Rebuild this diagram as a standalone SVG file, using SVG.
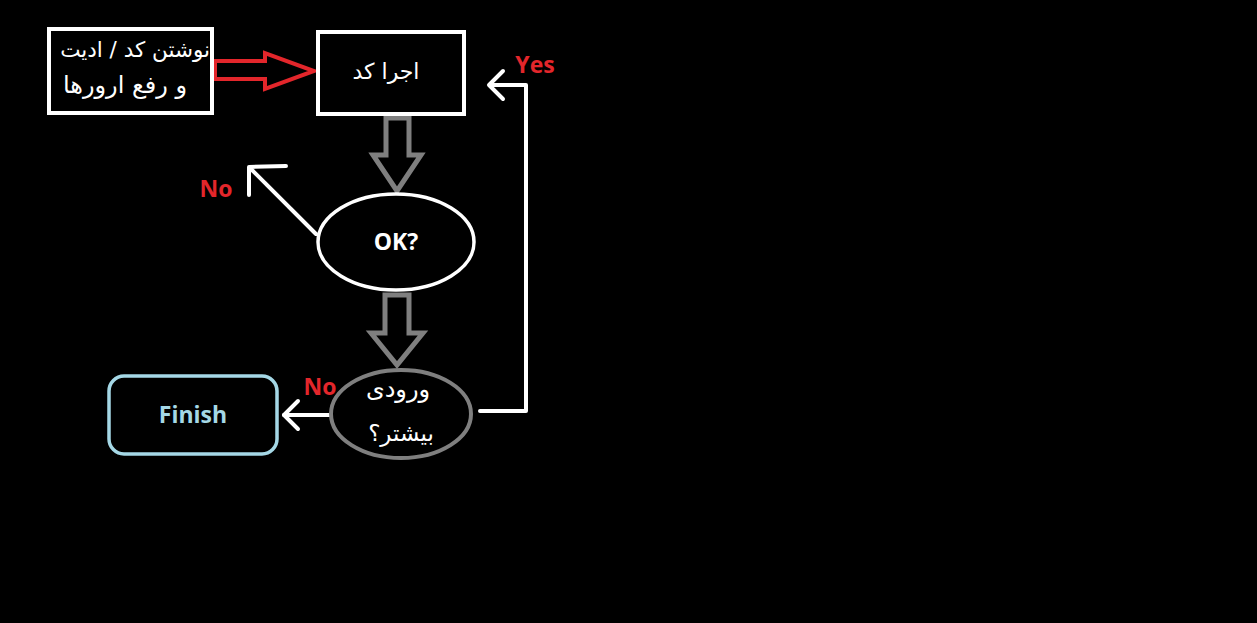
<svg xmlns="http://www.w3.org/2000/svg" width="1257" height="623" viewBox="0 0 1257 623">
<style>
.bg{fill:#000}
.box{fill:#000;stroke:#fff;stroke-width:4}
.fa{font-family:"DejaVu Sans","Noto Sans",sans-serif;fill:#fff}
.lat{font-family:"Open Sans","Noto Sans",sans-serif;font-weight:bold}
.red{fill:#e3262b}
.wl{fill:none;stroke:#fff;stroke-width:4;stroke-linecap:round;stroke-linejoin:round}
.gray{fill:#000;stroke:#7f7f7f;stroke-width:5;stroke-linejoin:miter}
</style>
<rect class="bg" x="0" y="0" width="1257" height="623"/>
<g id="connectors">
<path d="M215,61 H265 V53 L314,71 L265,89 V79 H215 Z" fill="#000" stroke="#e3262b" stroke-width="4"/>
<path class="gray" d="M386,118 H409 V155 H421 L397,191 L373,155 H386 Z"/>
<path class="gray" d="M385,295 H409 V333 H423 L397,365 L371,333 H385 Z"/>
<path class="wl" d="M316,234 L250,168"/>
<path class="wl" d="M286,166 L249,167 L249,195"/>
<path class="wl" d="M330,415 H284"/>
<path class="wl" d="M298,401 L284,415 L298,429"/>
<path class="wl" d="M480,411 H526 V85 H490"/>
<path class="wl" d="M503,71 L489,85 L503,99"/>
<text class="lat red" x="216" y="197" font-size="23" text-anchor="middle">No</text>
<text class="lat red" x="320" y="395" font-size="23" text-anchor="middle">No</text>
<text class="lat red" x="535" y="73" font-size="23" text-anchor="middle">Yes</text>
</g>
<g id="node-edit">
<rect class="box" x="49" y="29" width="163" height="84"/>
<text class="fa" x="210" y="57" font-size="21.5" text-anchor="start" direction="rtl">نوشتن کد / ادیت</text>
<text class="fa" x="187" y="93" font-size="24" text-anchor="start" direction="rtl">و رفع ارورها</text>
</g>
<g id="node-run">
<rect class="box" x="318" y="32" width="146" height="82"/>
<text class="fa" x="386" y="79" font-size="22" text-anchor="middle" direction="rtl">اجرا کد</text>
</g>
<g id="node-ok">
<ellipse cx="396" cy="242" rx="78" ry="48" fill="#000" stroke="#fff" stroke-width="3.5"/>
<text class="lat" x="396" y="250" font-size="23" fill="#fff" text-anchor="middle">OK?</text>
</g>
<g id="node-more">
<ellipse cx="401" cy="414" rx="70" ry="44" fill="#000" stroke="#7f7f7f" stroke-width="4"/>
<text class="fa" x="398" y="397" font-size="24" text-anchor="middle" direction="rtl">ورودی</text>
<text class="fa" x="401" y="441" font-size="23" text-anchor="middle" direction="rtl">بیشتر؟</text>
</g>
<g id="node-finish">
<rect x="109" y="376" width="168" height="78" rx="15" fill="#000" stroke="#a5d8e6" stroke-width="3.5"/>
<text class="lat" x="193" y="423" font-size="23" fill="#a5d8e6" text-anchor="middle">Finish</text>
</g>
</svg>
